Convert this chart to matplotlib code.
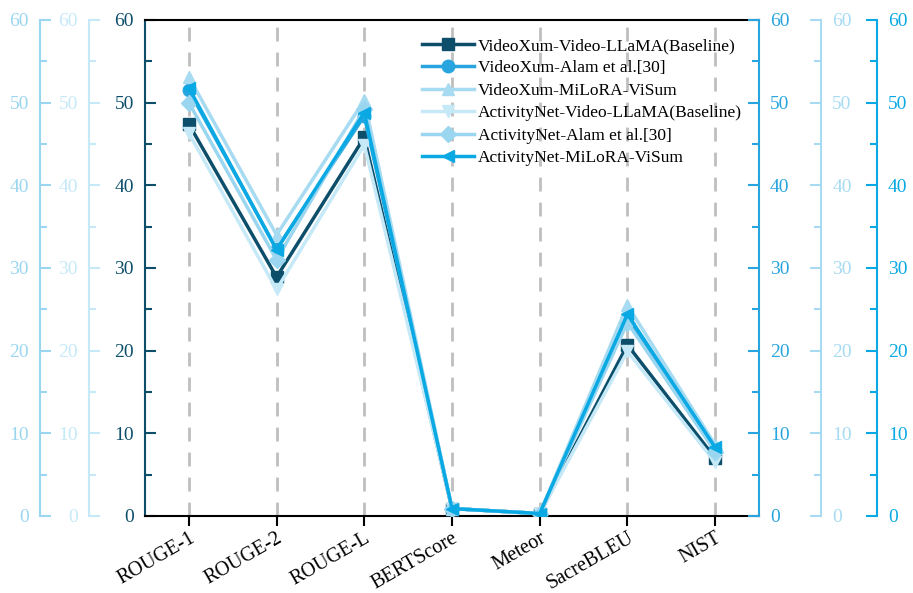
import matplotlib.pyplot as plt
import numpy as np

plt.rcParams['font.family'] = ['Liberation Serif', 'DejaVu Serif']

metrics = ['ROUGE-1', 'ROUGE-2', 'ROUGE-L', 'BERTScore', 'Meteor', 'SacreBLEU', 'NIST']

vx_llama = [47.4, 28.9, 45.8, 0.9, 0.3, 20.7, 7.0]
vx_alam = [51.5, 32.3, 48.4, 0.9, 0.3, 24.0, 8.0]
vx_milora = [53.1, 34.0, 50.3, 0.9, 0.3, 25.5, 8.6]
an_llama = [46.3, 27.4, 44.9, 0.9, 0.3, 19.9, 6.5]
an_alam = [50.0, 31.0, 49.2, 0.9, 0.3, 23.4, 7.8]
an_milora = [51.8, 32.2, 48.8, 0.9, 0.3, 24.4, 8.3]

series = [
    ('VideoXum-Video-LLaMA(Baseline)', vx_llama, '#0d4f6b', 's'),
    ('VideoXum-Alam et al.[30]', vx_alam, '#28a5df', 'o'),
    ('VideoXum-MiLoRA-ViSum', vx_milora, '#a6dbf2', '^'),
    ('ActivityNet-Video-LLaMA(Baseline)', an_llama, '#c6e9f8', 'v'),
    ('ActivityNet-Alam et al.[30]', an_alam, '#9ad6f0', 'D'),
    ('ActivityNet-MiLoRA-ViSum', an_milora, '#0aa9e3', '<'),
]

fig = plt.figure(figsize=(9.13, 5.93), dpi=100)
ax = fig.add_axes([145 / 913, 77 / 593, 614 / 913, 496 / 593])
x = np.arange(len(metrics))

for xi in x:
    ax.axvline(xi, color='#bfbfbf', lw=2, ls=(0, (5, 4)), zorder=0)

for name, vals, col, mk in series:
    ms = 8 if mk == 'D' else 9
    ax.plot(x, vals, color=col, marker=mk, lw=2.5, ms=ms, label=name, zorder=3)

ax.set_xlim(-0.5, len(metrics) - 0.5)
ax.set_ylim(0, 60)
ax.set_xticks(x)
ax.set_xticklabels(metrics, rotation=30, ha='right', rotation_mode='anchor', fontsize=14.5)
ax.tick_params(axis='x', direction='out', length=7, width=1.5, colors='black', pad=2)

main_col = '#0d4f6b'
ax.set_yticks(np.arange(0, 61, 10))
ax.set_yticks(np.arange(5, 60, 10), minor=True)
ax.tick_params(axis='y', which='major', direction='in', length=8, width=1.5,
               colors=main_col, labelsize=14, pad=8)
ax.tick_params(axis='y', which='minor', direction='in', length=5, width=1.5, colors=main_col)
ax.spines['left'].set_color(main_col)
ax.spines['left'].set_linewidth(1.5)
ax.spines['top'].set_linewidth(1.5)
ax.spines['bottom'].set_linewidth(1.5)
ax.spines['right'].set_visible(False)

# extra y axes: (position in axes coords, side, colour)
extra = [
    (-0.171, 'left', '#9ad6f0'),
    (-0.091, 'left', '#c6e9f8'),
    (1.0, 'right', '#28a5df'),
    (1.101, 'right', '#a6dbf2'),
    (1.192, 'right', '#0aa9e3'),
]
for pos, side, col in extra:
    t = ax.twinx()
    t.set_ylim(0, 60)
    for s in t.spines.values():
        s.set_visible(False)
    t.spines[side].set_visible(True)
    t.spines[side].set_position(('axes', pos))
    t.spines[side].set_color(col)
    t.spines[side].set_linewidth(1.5)
    if side == 'left':
        t.yaxis.tick_left()
    else:
        t.yaxis.tick_right()
    t.set_yticks(np.arange(0, 61, 10))
    t.set_yticks(np.arange(5, 60, 10), minor=True)
    t.tick_params(axis='y', which='major', direction='in', length=8, width=1.5,
                  colors=col, labelsize=14, pad=8)
    t.tick_params(axis='y', which='minor', direction='in', length=5, width=1.5, colors=col)

leg = ax.legend(loc='upper left', bbox_to_anchor=(0.44, 0.978), frameon=False,
                fontsize=12.5, handlelength=3, handletextpad=0.2, labelspacing=0.36,
                borderaxespad=0)
fig.savefig('out.png', dpi=100)
